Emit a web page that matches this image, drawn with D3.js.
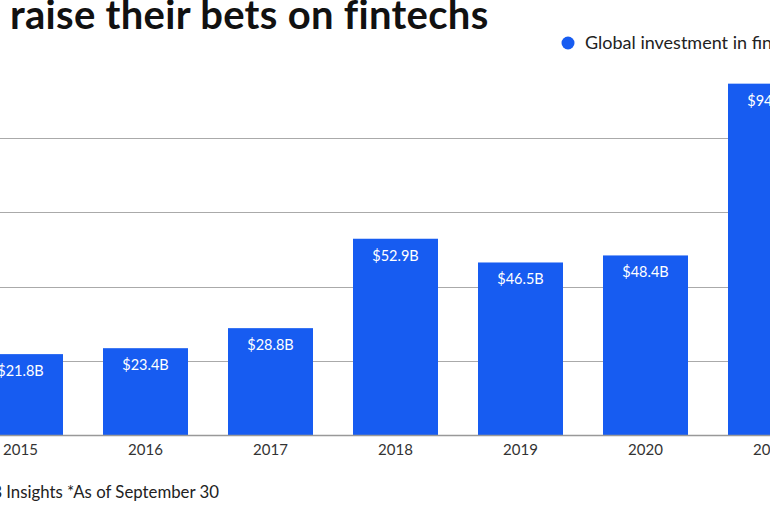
<!DOCTYPE html>
<html><head><meta charset="utf-8">
<script src="https://cdn.jsdelivr.net/npm/d3@7"></script>
<style>html,body{margin:0;padding:0;background:#fff;overflow:hidden}</style>
</head><body>
<svg id="c" width="770" height="513"></svg>
<script>
const years = ["2015","2016","2017","2018","2019","2020","2021"];
const investment = [21.8, 23.4, 28.8, 52.9, 46.5, 48.4, 94.7];
const valueLabels = ["$21.8B","$23.4B","$28.8B","$52.9B","$46.5B","$48.4B","$94.7B"];
const gridTicks = [20, 40, 60, 80];
const title = "raise their bets on fintechs";
const legendLabel = "Global investment in fintech";
const sourceText = "Source: CB Insights *As of September 30";

const svg = d3.select("#c");
const font = "Lato, 'Open Sans', sans-serif";
const blue = "#175cf1";

const x = d3.scaleBand().domain(years).range([-42, 833]).paddingInner(0.32).paddingOuter(0.16);
const y = d3.scaleLinear().domain([0, 100]).range([435, 64]);

// title
svg.append("text").attr("x", 10).attr("y", 29).text(title)
  .attr("font-family", font).attr("font-weight", 700).attr("font-size", 40)
  .attr("letter-spacing", 0.3).attr("fill", "#111");

// legend
svg.append("circle").attr("cx", 568).attr("cy", 43).attr("r", 6.5).attr("fill", blue);
svg.append("text").attr("x", 585).attr("y", 49).text(legendLabel)
  .attr("font-family", font).attr("font-size", 18).attr("fill", "#222");

// grid
svg.append("g").selectAll("line").data(gridTicks).join("line")
  .attr("x1", 0).attr("x2", 770)
  .attr("y1", d => Math.round(y(d)) + 0.5).attr("y2", d => Math.round(y(d)) + 0.5)
  .attr("stroke", "#aaa").attr("stroke-width", 1);

// bars
svg.append("g").selectAll("rect").data(years).join("rect")
  .attr("x", d => x(d)).attr("width", x.bandwidth())
  .attr("y", (d, i) => y(investment[i])).attr("height", (d, i) => y(0) - y(investment[i]))
  .attr("fill", blue);

// value labels
svg.append("g").selectAll("text").data(years).join("text")
  .attr("x", d => x(d) + x.bandwidth() / 2)
  .attr("y", (d, i) => y(investment[i]) + 22)
  .attr("text-anchor", "middle").text((d, i) => valueLabels[i])
  .attr("font-family", font).attr("font-size", 14.5).attr("fill", "#fff");

// x axis
const xAxis = svg.append("g").attr("transform", "translate(0,435)")
  .call(d3.axisBottom(x).tickSize(0).tickPadding(9));
xAxis.select(".domain").attr("d", "M0,0.5H770").attr("stroke", "#999").attr("stroke-width", 1.5);
xAxis.selectAll("text").attr("font-family", font).attr("font-size", 15).attr("fill", "#333");

// source
svg.append("text").attr("x", 219).attr("y", 498).attr("text-anchor", "end").text(sourceText)
  .attr("font-family", font).attr("font-size", 16.8).attr("fill", "#222");
</script>
</body></html>
